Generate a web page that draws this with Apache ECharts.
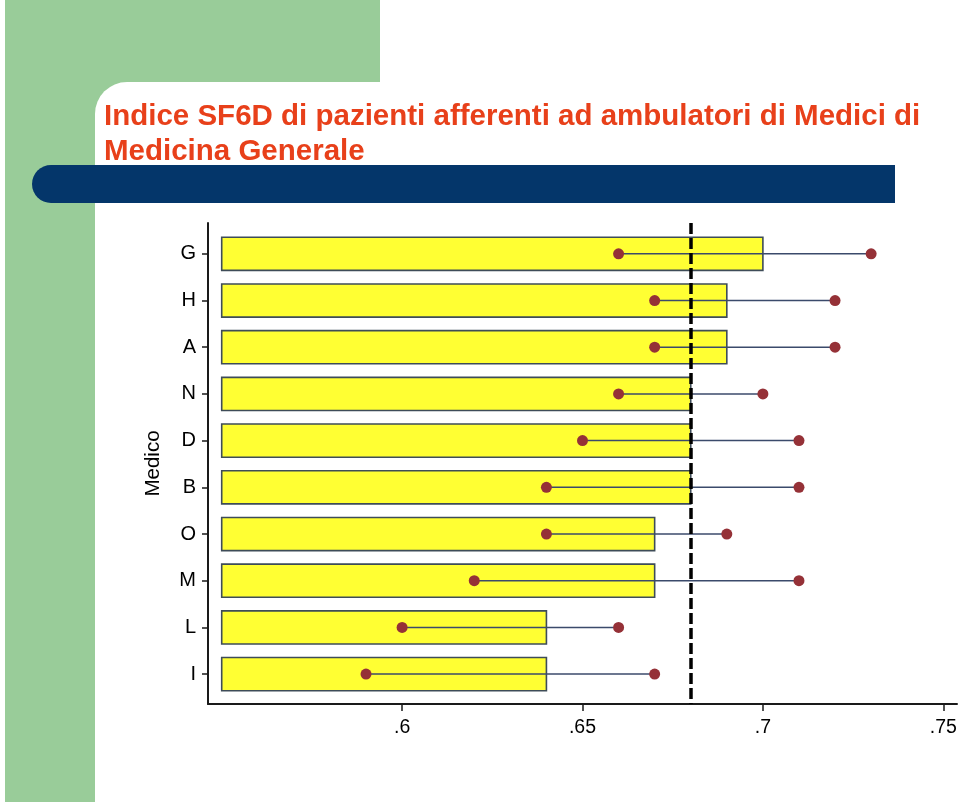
<!DOCTYPE html>
<html>
<head>
<meta charset="utf-8">
<script src="https://cdn.jsdelivr.net/npm/echarts@6/dist/echarts.min.js"></script>
<style>
  html, body { margin: 0; padding: 0; background: #fff; }
  #chart { width: 960px; height: 804px; }
</style>
</head>
<body>
<div id="chart"></div>
<script>
// Medici, from top to bottom
const medici = ['G', 'H', 'A', 'N', 'D', 'B', 'O', 'M', 'L', 'I'];
// mean SF6D per medico (bar end)
const media = [0.70, 0.69, 0.69, 0.68, 0.68, 0.68, 0.67, 0.67, 0.64, 0.64];
// interval ends (dots)
const ciLow = [0.66, 0.67, 0.67, 0.66, 0.65, 0.64, 0.64, 0.62, 0.60, 0.59];
const ciHigh = [0.73, 0.72, 0.72, 0.70, 0.71, 0.71, 0.69, 0.71, 0.66, 0.67];
const xTicks = [0.6, 0.65, 0.7, 0.75];
const barBase = 0.55;
const refLine = 0.68;

const idx = medici.map((m, i) => i);
const barData = idx.map(i => [media[i], i]);
const ciData = idx.map(i => [ciLow[i], ciHigh[i], i]);
const dotData = [];
idx.forEach(i => {
    dotData.push([ciLow[i], i]);
    dotData.push([ciHigh[i], i]);
});

const chart = echarts.init(document.getElementById('chart'), null, {renderer: 'canvas'});

const fontFam = '"Liberation Sans", Arial, Helvetica, sans-serif';

const option = {
    backgroundColor: '#ffffff',
    animation: false,
    graphic: [
        // green slide decoration
        {type: 'rect', z: -10, shape: {x: 5, y: 0, width: 375, height: 82}, style: {fill: '#99cc99'}},
        {type: 'rect', z: -10, shape: {x: 5, y: 0, width: 90, height: 802}, style: {fill: '#99cc99'}},
        {type: 'rect', z: -10, shape: {x: 5, y: 0, width: 140, height: 140}, style: {fill: '#99cc99'}},
        {type: 'rect', z: -9, shape: {x: 95, y: 82, width: 400, height: 200, r: [32, 0, 0, 0]}, style: {fill: '#ffffff'}},
        // dark blue band
        {type: 'rect', z: -8, shape: {x: 32, y: 165, width: 863, height: 38, r: [19, 0, 0, 19]}, style: {fill: '#04366a'}},
        {
            type: 'text', z: 10, left: 104, top: 99,
            style: {
                text: 'Indice SF6D di pazienti afferenti ad ambulatori di Medici di\nMedicina Generale',
                fill: '#e8401a',
                font: 'bold 29.5px ' + fontFam,
                lineHeight: 35
            }
        }
    ],
    grid: {left: 208, top: 223, right: 3, bottom: 100, containLabel: false},
    xAxis: {
        type: 'value',
        min: 0.5462,
        max: 0.7538,
        splitLine: {show: false},
        axisLine: {show: true, onZero: false, lineStyle: {color: '#1a1a1a', width: 2}},
        axisTick: {show: true, length: 7, customValues: xTicks, lineStyle: {color: '#1a1a1a', width: 1.5}},
        axisLabel: {
            customValues: xTicks,
            margin: 14,
            color: '#000',
            fontSize: 19.5,
            fontFamily: fontFam,
            formatter: v => String(v).replace(/^0/, '')
        }
    },
    yAxis: {
        type: 'value',
        inverse: true,
        min: -0.66,
        max: 9.64,
        name: 'Medico',
        nameLocation: 'middle',
        nameRotate: 90,
        nameGap: 44,
        nameTextStyle: {color: '#000', fontSize: 20.5, fontFamily: fontFam},
        splitLine: {show: false},
        axisLine: {show: true, onZero: false, lineStyle: {color: '#1a1a1a', width: 2}},
        axisTick: {show: true, length: 6, customValues: idx, lineStyle: {color: '#1a1a1a', width: 1.5}},
        axisLabel: {
            customValues: idx,
            margin: 12,
            color: '#000',
            fontSize: 20,
            fontFamily: fontFam,
            formatter: v => medici[Math.round(v)] || ''
        }
    },
    series: [
        {
            // reference line, drawn behind bars
            type: 'line',
            z: 1,
            data: [],
            markLine: {
                silent: true,
                symbol: 'none',
                label: {show: false},
                lineStyle: {color: '#000', width: 3.5, type: [11, 4]},
                data: [{xAxis: refLine}]
            }
        },
        {
            type: 'custom',
            z: 2,
            data: barData,
            encode: {x: 0, y: 1},
            renderItem: (params, api) => {
                const i = api.value(1);
                const p0 = api.coord([barBase, i]);
                const p1 = api.coord([api.value(0), i]);
                const h = api.size([0, 1])[1] * 0.71;
                return {
                    type: 'rect',
                    shape: {x: p0[0], y: p0[1] - h / 2, width: p1[0] - p0[0], height: h},
                    style: {fill: '#ffff33', stroke: '#3e4c58', lineWidth: 1.6}
                };
            }
        },
        {
            type: 'custom',
            z: 3,
            data: ciData,
            encode: {x: [0, 1], y: 2},
            renderItem: (params, api) => {
                const i = api.value(2);
                const a = api.coord([api.value(0), i]);
                const b = api.coord([api.value(1), i]);
                return {
                    type: 'line',
                    shape: {x1: a[0], y1: a[1], x2: b[0], y2: b[1]},
                    style: {stroke: '#3b4a6b', lineWidth: 1.5}
                };
            }
        },
        {
            type: 'scatter',
            z: 4,
            data: dotData,
            symbol: 'circle',
            symbolSize: 11,
            itemStyle: {color: '#953137', opacity: 1}
        }
    ]
};

chart.setOption(option);
</script>
</body>
</html>
